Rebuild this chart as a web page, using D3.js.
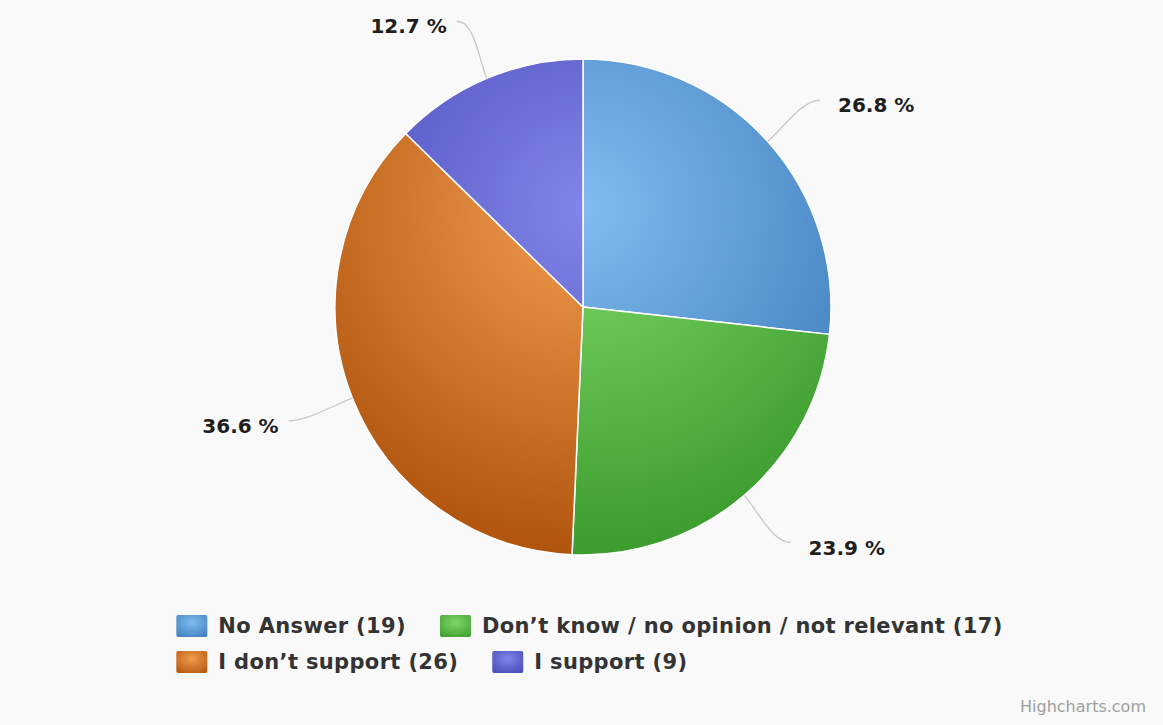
<!DOCTYPE html>
<html>
<head>
<meta charset="utf-8">
<script src="https://cdn.jsdelivr.net/npm/d3@7"></script>
<style>
  html, body { margin: 0; padding: 0; background: #f9f9f9; }
  svg { display: block; font-family: "DejaVu Sans", "Lucida Grande", sans-serif; }
</style>
</head>
<body>
<svg id="chart" width="1163" height="725"></svg>
<script>
// Survey answers (counts per category)
const categories = ["No Answer", "Don’t know / no opinion / not relevant", "I don’t support", "I support"];
const counts = [19, 17, 26, 9];
// Slice colours: inner (light) and outer (dark) gradient stops
const lightColors = ["#80bcee", "#7ed866", "#f29c4e", "#8184e8"];
const darkColors  = ["#3d7cbd", "#3c9c2e", "#b0540e", "#4547b5"];

const W = 1163, H = 725;
const cx = 583, cy = 307, r = 248;
const labelDist = 62;

const svg = d3.select("#chart");
svg.append("rect").attr("width", W).attr("height", H).attr("fill", "#f9f9f9");

const defs = svg.append("defs");
const total = d3.sum(counts);

// Pie-wide radial gradients in the pie group's local space (centre shifted up)
categories.forEach((c, i) => {
  const g = defs.append("radialGradient")
    .attr("id", "slice" + i)
    .attr("gradientUnits", "userSpaceOnUse")
    .attr("cx", 0).attr("cy", -0.4 * r)
    .attr("r", 1.4 * r);
  g.append("stop").attr("offset", 0).attr("stop-color", lightColors[i]);
  g.append("stop").attr("offset", 1).attr("stop-color", darkColors[i]);

  const lg = defs.append("radialGradient")
    .attr("id", "sym" + i)
    .attr("cx", 0.5).attr("cy", 0.35).attr("r", 0.8);
  lg.append("stop").attr("offset", 0).attr("stop-color", lightColors[i]);
  lg.append("stop").attr("offset", 1).attr("stop-color", darkColors[i]);
});

const pie = d3.pie().sort(null).value(d => d);
const arcs = pie(counts);
const arc = d3.arc().innerRadius(0).outerRadius(r);

const gPie = svg.append("g").attr("transform", `translate(${cx},${cy})`);
gPie.selectAll("path.slice")
  .data(arcs)
  .join("path")
  .attr("class", "slice")
  .attr("d", arc)
  .attr("fill", (d, i) => `url(#slice${i})`)
  .attr("stroke", "#ffffff")
  .attr("stroke-width", 1.5)
  .attr("stroke-linejoin", "round");

// Data labels with curved connectors
const fmt = d => (d.data / total * 100).toFixed(1) + " %";
arcs.forEach((d, i) => {
  const a = (d.startAngle + d.endAngle) / 2;
  const sx = Math.sin(a), sy = -Math.cos(a);
  const side = sx >= 0 ? 1 : -1;
  const R = r + labelDist;
  const lx = sx * R + side * 6, ly = sy * R;
  const ex = sx * r, ey = sy * r;
  const c2x = sx * (r + 22), c2y = sy * (r + 22);
  const c1x = lx - side * 18, c1y = ly;
  gPie.append("path")
    .attr("d", `M${lx},${ly} C${c1x},${c1y} ${c2x},${c2y} ${ex},${ey}`)
    .attr("fill", "none")
    .attr("stroke", "#c8c8c8")
    .attr("stroke-width", 1.3);
  gPie.append("text")
    .attr("x", lx + (side > 0 ? 18 : -10))
    .attr("y", ly + 5)
    .attr("dy", "0.35em")
    .attr("text-anchor", side > 0 ? "start" : "end")
    .attr("font-size", 20)
    .attr("font-weight", "bold")
    .attr("fill", "#1e1e1e")
    .text(fmt(d));
});

// Legend: two rows, left-aligned inside a centred box
const legendRows = [[0, 1], [2, 3]];
const legendFont = 21;
const symW = 31, symH = 22, symGap = 11, itemGap = 34;
const rowY = [626, 662];
const gLeg = svg.append("g");
const measure = gLeg.append("text")
  .attr("font-size", legendFont).attr("font-weight", "bold")
  .attr("letter-spacing", 0.35);
const textW = categories.map((c, i) => {
  measure.text(`${c} (${counts[i]})`);
  return measure.node().getComputedTextLength();
});
measure.remove();
const rowWidths = legendRows.map(row =>
  d3.sum(row, i => symW + symGap + textW[i]) + itemGap * (row.length - 1));
const legX = (W - d3.max(rowWidths)) / 2 + 8;
legendRows.forEach((row, ri) => {
  let x = legX;
  row.forEach(i => {
    gLeg.append("rect")
      .attr("x", x).attr("y", rowY[ri] - symH / 2)
      .attr("width", symW).attr("height", symH)
      .attr("rx", 2)
      .attr("fill", `url(#sym${i})`);
    gLeg.append("text")
      .attr("x", x + symW + symGap)
      .attr("y", rowY[ri])
      .attr("dy", "0.35em")
      .attr("font-size", legendFont)
      .attr("font-weight", "bold")
      .attr("letter-spacing", 0.35)
      .attr("fill", "#333333")
      .text(`${categories[i]} (${counts[i]})`);
    x += symW + symGap + textW[i] + itemGap;
  });
});

// Credits
svg.append("text")
  .attr("x", 1146).attr("y", 712)
  .attr("text-anchor", "end")
  .attr("font-size", 16)
  .attr("fill", "#a0a0a0")
  .text("Highcharts.com");
</script>
</body>
</html>
